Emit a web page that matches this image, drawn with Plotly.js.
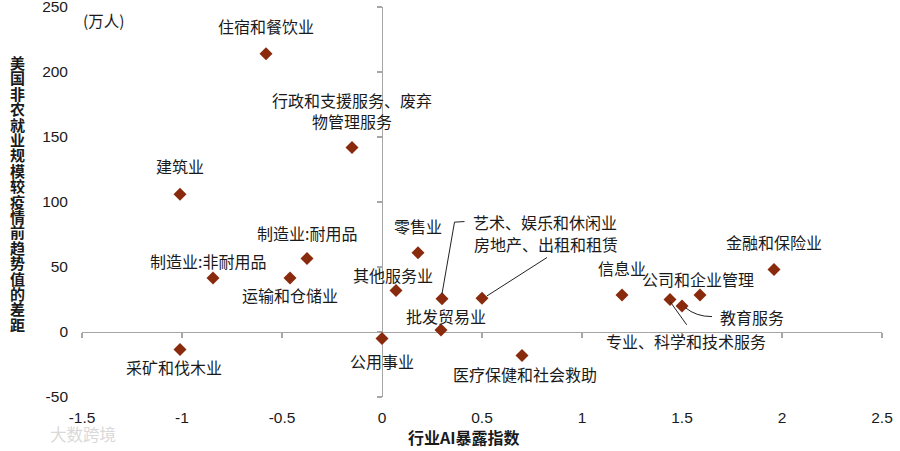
<!DOCTYPE html>
<html>
<head>
<meta charset="utf-8">
<script src="https://cdn.plot.ly/plotly-3.0.1.min.js"></script>
<style>html,body{margin:0;padding:0;background:#fff;}#chart{width:900px;height:451px;}</style>
</head>
<body>
<div id="chart"></div>
<script>
// ---- data ----
var industries = ['住宿和餐饮业','行政和支援服务、废弃<br>物管理服务','建筑业','制造业:耐用品','制造业:非耐用品','运输和仓储业','零售业','其他服务业','艺术、娱乐和休闲业','批发贸易业','公用事业','采矿和伐木业','房地产、出租和租赁','医疗保健和社会救助','信息业','专业、科学和技术服务','教育服务','公司和企业管理','金融和保险业'];
var aiExposure = [-0.58, -0.15, -1.01, -0.375, -0.845, -0.46, 0.18, 0.07, 0.30, 0.295, 0.0, -1.01, 0.50, 0.70, 1.20, 1.44, 1.50, 1.59, 1.96];
var employmentGap = [214, 142, 106, 56.5, 41.5, 41.5, 61, 32, 25.5, 1.5, -5, -13.5, 26, -18, 28.5, 25, 20, 28.5, 48];
var xTicks = [-1.5, -1, -0.5, 0, 0.5, 1, 1.5, 2, 2.5];
var xTickText = ['-1.5','-1','-0.5','0','0.5','1','1.5','2','2.5'];
var yTicks = [-50, 0, 50, 100, 150, 200, 250];
var yTickText = ['-50','0','50','100','150','200','250'];
var yTitle = '美国非农就业规模较疫情前趋势值的差距';
var xTitle = '行业AI暴露指数';
var unitLabel = '(万人)';
var watermark = '大数跨境';

// ---- styling: label offsets in pixels (dx right, dy down) ----
var labelOffsets = [[0,-28],[0,-37],[0,-28],[0,-26],[-5,-17],[0,17],[0,-27],[-3,-15],[103,-77],[5,-14],[0,22],[-6,17],[64,-54],[2.5,18.3],[0,-27.4],[16,41],[70,10.6],[-2,-16],[0,-27.4]];
// leader line paths (pixel, y up) for labels placed away from their points
var leaders = {
  8: 'M 0 5 L 12.5 76.7 L 22.5 77.3',
  12: 'M 5 2.3 L 65 40.7',
  15: 'M 0 -2 L 16.7 -25.3',
  16: 'M 3.3 -1.6 Q 14 -10.6 30 -10.6'
};

var FONT = 'Liberation Sans, Arial, Noto Sans CJK SC, sans-serif';
var CJK = 'Noto Sans CJK SC, Liberation Sans, sans-serif';
var txtColor = '#1a1a1a';
var axisColor = '#a6a6a6';

var annotations = [];
var shapes = [];
for (var i = 0; i < industries.length; i++) {
  annotations.push({
    x: aiExposure[i], y: employmentGap[i], xref: 'x', yref: 'y',
    text: industries[i], showarrow: false,
    xanchor: 'center', yanchor: 'middle',
    xshift: labelOffsets[i][0], yshift: -labelOffsets[i][1],
    font: {family: CJK, size: 16, color: txtColor}
  });
  if (leaders[i]) {
    shapes.push({
      type: 'path', xref: 'x', yref: 'y',
      xsizemode: 'pixel', ysizemode: 'pixel',
      xanchor: aiExposure[i], yanchor: employmentGap[i],
      path: leaders[i],
      line: {color: '#222', width: 1}
    });
  }
}
// vertical y-axis title: stacked upright characters in one text
var stacked = Array.from(yTitle).map(function (c) {
  return '<span style="font-size:15px">' + c + '</span>';
}).join('<br>');
annotations.push({
  xref: 'paper', yref: 'paper', x: 0, y: 1,
  xanchor: 'center', yanchor: 'top',
  xshift: -65, yshift: -43,
  text: '<b>' + stacked + '</b>', showarrow: false,
  font: {family: CJK, size: 11.85, color: txtColor}
});
annotations.push({
  xref: 'paper', yref: 'paper', x: 0.4775, y: 0, yshift: -40,
  xanchor: 'center', yanchor: 'middle',
  text: '<b>' + xTitle + '</b>', showarrow: false,
  font: {family: CJK, size: 16, color: txtColor}
});
annotations.push({
  xref: 'paper', yref: 'paper', x: 0.0266, y: 1, yshift: -13,
  xanchor: 'center', yanchor: 'middle',
  text: unitLabel, showarrow: false,
  font: {family: CJK, size: 15.5, color: txtColor}
});
annotations.push({
  xref: 'paper', yref: 'paper', x: 0, y: 0, yshift: -37, xshift: 0.5,
  xanchor: 'center', yanchor: 'middle',
  text: watermark, showarrow: false,
  font: {family: CJK, size: 16.5, color: '#d9d9d9'}
});

var traces = [
  {
    x: aiExposure, y: employmentGap, type: 'scatter', mode: 'markers',
    xaxis: 'x2', yaxis: 'y2',
    marker: {symbol: 'diamond', size: 10, color: '#8a2a0d'},
    hoverinfo: 'skip'
  },
  { x: [], y: [], type: 'scatter', mode: 'markers', xaxis: 'x', yaxis: 'y', hoverinfo: 'skip' }
];

var layout = {
  width: 900, height: 451,
  margin: {l: 82, r: 18, t: 7, b: 54},
  paper_bgcolor: '#fff', plot_bgcolor: 'rgba(0,0,0,0)',
  showlegend: false,
  font: {family: FONT, size: 14, color: txtColor},
  xaxis: {
    range: [-1.5, 2.5], tickvals: xTicks, ticktext: xTickText,
    showline: false, showgrid: false, zeroline: false, ticks: '',
    ticklabelstandoff: 9, ticklabeloverflow: 'allow', fixedrange: true,
    tickfont: {family: FONT, size: 15.5, color: txtColor}
  },
  yaxis: {
    range: [-50, 250], tickvals: yTicks, ticktext: yTickText,
    showline: false, showgrid: false, zeroline: false, ticks: '',
    ticklabelstandoff: 13, ticklabeloverflow: 'allow', fixedrange: true,
    tickfont: {family: FONT, size: 15.5, color: txtColor}
  },
  xaxis2: {
    overlaying: 'x', anchor: 'free', position: 50 / 300,
    range: [-1.5, 2.5], tickvals: xTicks, showticklabels: false,
    showline: true, linecolor: axisColor, linewidth: 1.3,
    ticks: 'outside', ticklen: 5, tickcolor: axisColor, tickwidth: 1.3,
    showgrid: false, zeroline: false, layer: 'below traces', fixedrange: true
  },
  yaxis2: {
    overlaying: 'y', anchor: 'free', position: 1.5 / 4, side: 'left',
    range: [-50, 250], tickvals: yTicks, showticklabels: false,
    showline: true, linecolor: axisColor, linewidth: 1.3,
    ticks: 'outside', ticklen: 5, tickcolor: axisColor, tickwidth: 1.3,
    showgrid: false, zeroline: false, layer: 'below traces', fixedrange: true
  },
  annotations: annotations,
  shapes: shapes
};

Plotly.newPlot('chart', traces, layout, {staticPlot: true, displayModeBar: false});
</script>
</body>
</html>
